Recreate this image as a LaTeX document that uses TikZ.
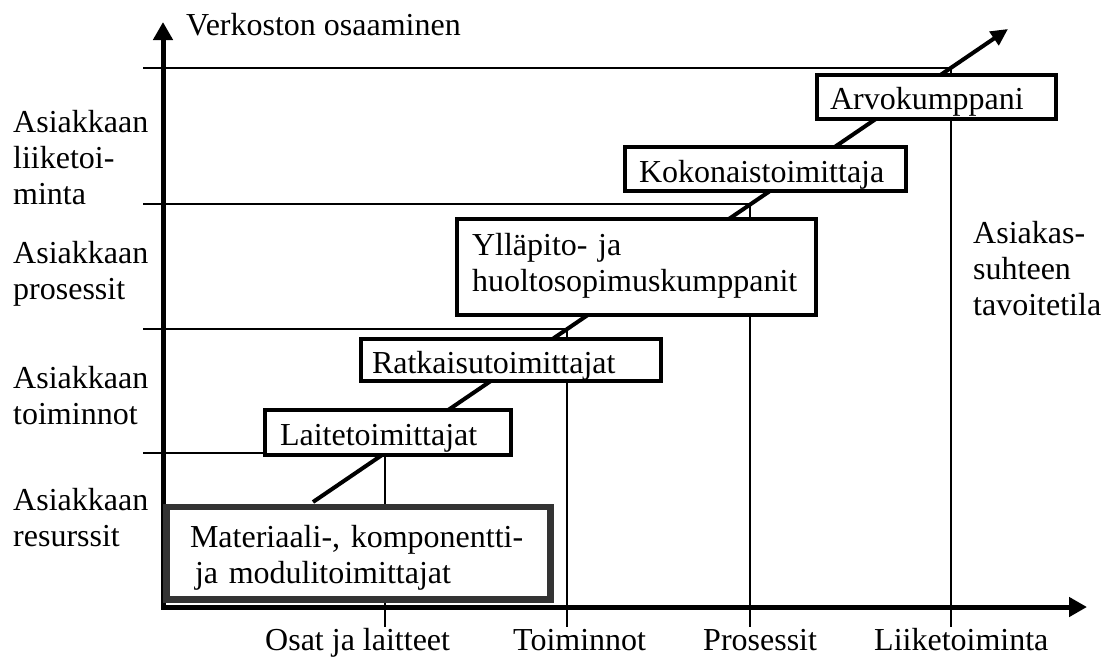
\documentclass[tikz,border=0pt]{standalone}
\usepackage{fontspec}
\setmainfont{Liberation Serif}
\usetikzlibrary{arrows.meta}

\begin{document}
\begin{tikzpicture}[x=1pt, y=-1pt,
  font=\fontsize{32}{36}\selectfont,
  gridline/.style={line width=1.4pt},
  axisline/.style={line width=5pt, line join=miter,
    {Triangle[length=18pt,width=19pt]}-{Triangle[length=18pt,width=19pt]}},
  trendline/.style={line width=4pt, -{Triangle[length=17pt,width=16pt]}},
  stage/.style={draw, line width=4pt, fill=white, align=left,
    minimum height=#1, inner ysep=0pt},
  label/.style={anchor=base west, inner sep=0pt},
  stack/.style={anchor=base west, inner sep=0pt, align=left, text width=#1},
]
\useasboundingbox (0,0) rectangle (1105,657);

% step corners, all lying on the trend line
\coordinate (c1) at (385,453);
\coordinate (c2) at (567,329);
\coordinate (c3) at (750,204);
\coordinate (c4) at (951,68);

% level lines and ticks
\foreach \c in {c1,c2,c3,c4}{
  \draw[gridline] (143,0 |- \c) -- (\c);
  \draw[gridline] (\c) -- (\c |- 0,627);
}

% axes
\coordinate (ytip) at (163,22);
\coordinate (orig) at (163,607);
\coordinate (xtip) at (1087,607);
\draw[axisline] (ytip) -- (orig) -- (xtip);

% trend line
\coordinate (tstart) at (313,502);
\coordinate (ttip) at (1008,29);
\draw[trendline] (tstart) -- (ttip);

% stages (text height/depth set the baseline inside each box)
\node[stage=44pt, text width=213pt, inner xsep=13pt, text height=24pt, text depth=0pt]
  (arvo) at (936.5,97) {Arvokumppani};
\node[stage=44pt, text width=253pt, inner xsep=14pt, text height=26pt, text depth=0pt]
  (koko) at (765.5,169) {Kokonaistoimittaja};
\node[stage=96pt, text width=329pt, inner xsep=15pt, text height=12pt, text depth=36pt]
  (yllapito) at (636.5,267) {Ylläpito- ja\\huoltosopimuskumppanit};
\node[stage=42pt, text width=278pt, inner xsep=11pt, text height=26pt, text depth=0pt]
  (ratkaisu) at (511,360) {Ratkaisutoimittajat};
\node[stage=45pt, text width=216pt, inner xsep=15pt, text height=25pt, text depth=0pt]
  (laite) at (388,432.5) {Laitetoimittajat};
\node[stage=92.5pt, text width=337pt, inner xsep=23.5pt, line width=6.5pt,
  text height=24pt, text depth=36pt,
  draw={rgb,255:red,51;green,51;blue,51}] (materiaali) at (358.5,553)
  {Materiaali-, komponentti-\\\hspace*{5pt}ja modulitoimittajat};

% axis titles
\node[label] (ytitle) at (186,35) {Verkoston osaaminen};
\node[stack=150pt] (lev4) at (13,132) {Asiakkaan\\liiketoi-\\minta};
\node[stack=150pt] (lev3) at (13,263) {Asiakkaan\\prosessit};
\node[stack=150pt] (lev2) at (13,388) {Asiakkaan\\toiminnot};
\node[stack=150pt] (lev1) at (13,510) {Asiakkaan\\resurssit};
\node[stack=135pt] (goal) at (973,243) {Asiakas-\\suhteen\\tavoitetila};

\node[label] (x1) at (265,650) {Osat ja laitteet};
\node[label] (x2) at (513,650) {Toiminnot};
\node[label] (x3) at (703,650) {Prosessit};
\node[label] (x4) at (874,650) {Liiketoiminta};
\end{tikzpicture}
\end{document}
